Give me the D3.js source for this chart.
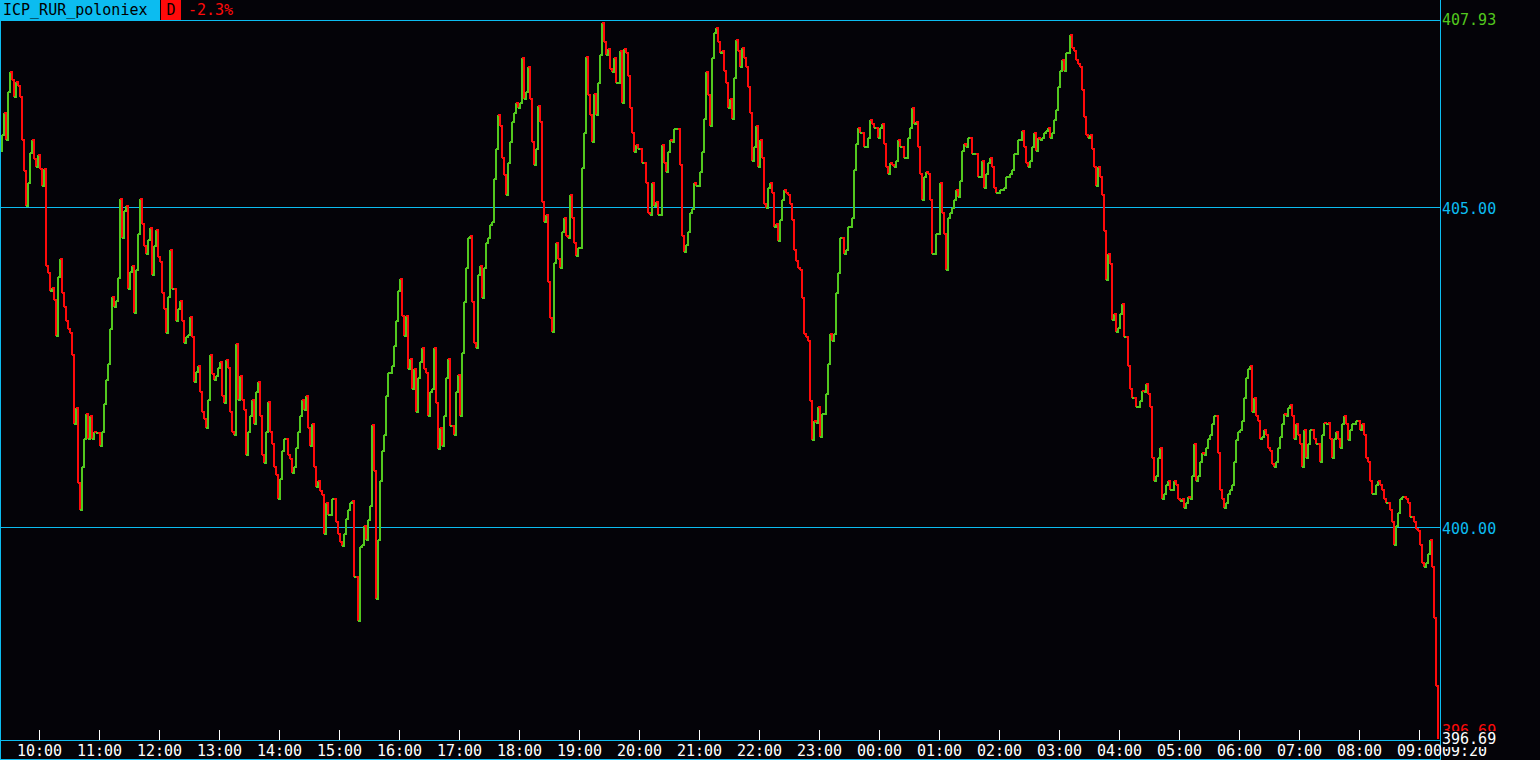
<!DOCTYPE html>
<html><head><meta charset="utf-8">
<script src="https://cdn.jsdelivr.net/npm/d3@7"></script>
<style>html,body{margin:0;padding:0;background:#040308;overflow:hidden}</style>
</head><body><svg id="c" width="1540" height="760"></svg>
<script>
// ---- data ----
const symbol = "ICP_RUR_poloniex";
const periodLabel = "D";
const changeLabel = "-2.3%";
const startTime = new Date(2021, 0, 1, 9, 20);   // first sample
const stepMinutes = 2;
const prices = [
405.88,406.13,406.47,406.05,406.81,407.12,406.99,406.72,406.96,406.90,406.72,406.05,405.57,405.02,405.39,405.85,406.06,405.76,405.64,405.82,
405.60,405.33,405.60,404.09,403.97,403.70,403.75,403.55,403.00,403.91,404.19,403.66,403.44,403.23,403.10,403.04,402.70,401.62,401.87,400.70,
400.27,400.95,401.38,401.78,401.38,401.75,401.38,401.50,401.47,401.47,401.28,401.50,401.93,402.30,402.55,403.10,403.60,403.44,403.54,403.90,
405.14,404.52,404.95,405.02,403.72,404.00,404.09,403.35,404.03,404.59,405.14,404.74,404.40,404.28,404.49,404.68,403.94,404.40,404.65,404.22,
404.15,403.66,403.41,403.04,403.60,404.34,403.72,403.72,403.23,403.41,403.54,403.23,402.89,402.98,403.01,403.29,402.98,402.27,402.43,402.52,
402.12,401.81,401.69,401.56,401.99,402.70,402.40,402.30,402.36,402.49,402.58,402.06,401.95,402.61,402.49,401.81,401.50,401.44,402.86,401.99,
402.36,401.99,401.84,401.13,401.50,401.75,401.99,401.62,402.12,402.27,401.75,401.13,401.01,401.50,401.96,401.50,401.31,400.94,400.82,400.45,
400.76,401.19,401.38,401.38,401.13,401.07,400.85,400.94,401.25,401.50,401.75,401.99,401.84,402.06,401.56,401.28,401.62,400.94,400.64,400.73,
400.57,400.51,399.90,400.39,400.20,400.20,400.45,400.45,400.08,399.90,399.77,399.71,399.90,400.14,400.27,400.39,400.42,399.22,399.22,398.54,
399.70,399.72,400.03,399.80,400.11,400.34,401.60,400.89,398.89,399.80,400.73,401.20,401.44,402.06,402.42,402.42,402.53,402.84,403.23,403.70,
403.89,403.31,403.00,403.31,402.48,402.64,402.17,402.48,401.80,402.33,402.58,402.80,402.48,402.41,401.75,402.11,402.17,402.80,401.95,401.23,
401.55,401.28,401.75,402.33,402.64,401.59,401.59,401.44,402.11,402.38,401.75,402.73,403.52,404.05,404.52,404.56,403.52,402.89,402.80,403.94,
404.09,403.58,404.05,404.45,404.52,404.72,404.77,405.45,405.92,406.44,406.28,405.77,405.50,405.19,405.70,406.02,406.33,406.48,406.64,406.55,
406.64,407.34,406.70,406.80,407.20,406.70,406.02,405.66,405.92,406.59,406.33,405.08,404.77,404.88,403.83,403.27,403.05,404.14,404.45,404.20,
404.05,404.61,404.83,404.56,404.52,405.19,404.83,404.45,404.25,404.36,404.36,405.61,406.17,407.35,406.75,406.44,406.02,406.78,406.44,406.95,
407.38,407.89,407.58,407.38,407.48,407.17,407.11,407.33,406.95,406.95,407.45,406.64,407.48,407.42,407.06,406.55,406.17,405.86,405.97,405.92,
405.92,405.70,405.70,405.39,404.92,404.88,405.39,405.03,405.08,404.88,404.88,405.97,405.70,405.55,405.86,406.05,406.02,406.23,406.23,406.23,
405.66,404.56,404.30,404.41,404.61,404.92,404.98,405.39,405.34,405.34,405.55,405.86,406.39,407.11,406.75,406.28,407.33,407.73,407.80,407.58,
407.41,407.45,407.14,406.94,406.55,406.70,406.39,407.02,407.61,407.45,407.19,407.50,407.34,407.19,406.88,406.47,405.73,405.94,406.28,405.63,
406.05,405.78,405.06,405.00,405.31,405.38,405.22,404.69,404.75,404.48,404.80,405.11,405.27,405.23,405.19,405.06,404.80,404.33,404.17,404.06,
404.02,403.59,403.03,402.97,402.92,401.98,401.36,401.67,401.63,401.88,401.41,401.78,401.78,402.09,402.56,403.03,402.92,403.03,403.66,403.97,
404.53,404.53,404.28,404.33,404.69,404.69,404.84,405.58,406.00,406.25,406.16,406.16,405.94,405.94,406.09,406.36,406.31,406.25,406.25,406.09,
406.25,406.31,406.00,405.63,405.53,405.69,405.66,405.63,405.73,406.05,405.94,405.94,405.78,405.78,406.09,406.25,406.55,406.31,406.33,405.94,
405.53,405.11,405.47,405.55,405.53,405.11,404.28,404.28,404.59,404.59,405.38,404.91,404.59,404.02,404.84,404.92,405.00,405.11,405.27,405.16,
405.42,405.89,406.00,405.94,406.09,406.09,405.84,405.84,405.84,405.47,405.47,405.73,405.31,405.53,405.69,405.78,405.63,405.31,405.22,405.22,
405.27,405.27,405.31,405.47,405.47,405.53,405.58,405.84,405.84,406.05,406.05,406.20,405.94,405.69,405.63,405.73,405.94,406.16,405.89,406.09,
406.05,406.08,406.16,406.20,406.25,406.09,406.16,406.36,406.52,406.88,407.14,407.30,407.14,407.41,407.41,407.69,407.50,407.45,407.30,407.25,
407.20,406.84,406.42,406.13,406.09,406.13,405.91,405.63,405.34,405.63,405.48,405.19,404.63,403.86,404.27,404.11,403.25,403.33,403.05,403.11,
403.33,403.50,402.97,402.97,402.53,402.17,402.03,402.03,401.89,401.89,401.97,402.14,402.11,402.25,402.08,401.89,401.09,400.73,400.81,401.09,
401.25,400.45,400.53,400.67,400.73,400.59,400.59,400.73,400.67,400.45,400.42,400.45,400.31,400.39,400.48,400.45,400.81,401.31,400.73,400.81,
401.03,401.17,401.14,401.25,401.39,401.45,401.61,401.75,401.75,401.17,400.59,400.45,400.31,400.39,400.53,400.59,400.67,401.03,401.36,401.50,
401.53,401.67,402.03,402.33,402.47,402.53,401.81,402.03,401.75,401.67,401.39,401.42,401.53,401.45,401.25,401.20,401.00,400.95,401.03,401.25,
401.42,401.61,401.78,401.75,401.86,401.92,401.75,401.39,401.61,401.45,401.31,400.95,401.53,401.09,401.31,401.53,401.53,401.39,401.31,401.31,
401.03,401.45,401.64,401.61,401.64,401.39,401.09,401.39,401.50,401.39,401.25,401.61,401.75,401.61,401.36,401.53,401.61,401.61,401.67,401.67,
401.53,401.61,401.45,401.09,401.03,400.73,400.53,400.53,400.67,400.73,400.67,400.59,400.45,400.39,400.39,400.28,400.09,399.73,400.03,400.23,
400.45,400.48,400.48,400.45,400.39,400.17,400.17,400.09,399.98,399.95,399.73,399.45,399.38,399.45,399.59,399.81,399.38,398.59,397.52,396.69
];
const gridLevels = [405, 400];
const highLabel = 407.93;
const lowLabel = 396.69;
const lastPrice = 396.69;
const endTickLabel = "09:20";

// ---- style ----
const W = 1540, H = 760;
const plotR = 1440, plotT = 20, plotB = 740;
const CYAN = "#0cbcf0", GREEN = "#52c81e", RED = "#ff0a0a", BG = "#040308";
const FONT = "'DejaVu Sans Mono', 'Liberation Mono', monospace";
const FS = "15px";

const svg = d3.select("#c");
svg.append("rect").attr("width", W).attr("height", H).attr("fill", BG);

const t0 = startTime;
const t1 = new Date(+t0 + 24 * 3600 * 1000);
const x = d3.scaleTime().domain([t0, t1]).range([0, plotR]);
const y = d3.scaleLinear().domain([400, 405]).range([527.5, 207.5]);

const data = prices.map((p, i) => ({ t: new Date(+t0 + i * stepMinutes * 60000), p }));

// clip
svg.append("clipPath").attr("id", "clip").append("rect")
  .attr("x", 1).attr("y", plotT + 1).attr("width", plotR - 1).attr("height", plotB - plotT - 1);

// grid lines
svg.append("g").selectAll("line").data(gridLevels).join("line")
  .attr("x1", 0).attr("x2", plotR)
  .attr("y1", d => Math.round(y(d)) - 0.5).attr("y2", d => Math.round(y(d)) - 0.5)
  .attr("stroke", CYAN).attr("stroke-width", 1);

// price path, colored per step
const segs = d3.range(1, data.length).map(i => ({ a: data[i - 1], b: data[i] }));
svg.append("g").attr("clip-path", "url(#clip)").selectAll("path").data(segs).join("path")
  .attr("d", s => {
    const xa = Math.round(x(s.a.t)), xb = Math.round(x(s.b.t));
    const ya = Math.round(y(s.a.p)), yb = Math.round(y(s.b.p));
    return `M${xa},${ya}H${xb}V${yb}`;
  })
  .attr("fill", "none")
  .attr("stroke", s => s.b.p >= s.a.p ? GREEN : RED)
  .attr("stroke-width", 2)
  .attr("shape-rendering", "crispEdges");

// frame
const frame = svg.append("g").attr("stroke", CYAN).attr("stroke-width", 1).attr("shape-rendering", "crispEdges");
frame.append("line").attr("x1", 0).attr("x2", plotR).attr("y1", plotT + 0.5).attr("y2", plotT + 0.5);
frame.append("line").attr("x1", 0).attr("x2", plotR).attr("y1", plotB + 0.5).attr("y2", plotB + 0.5);
frame.append("line").attr("x1", 0).attr("x2", plotR).attr("y1", H - 0.5).attr("y2", H - 0.5);
frame.append("line").attr("x1", 0.5).attr("x2", 0.5).attr("y1", 0).attr("y2", H);
frame.append("line").attr("x1", plotR + 0.5).attr("x2", plotR + 0.5).attr("y1", 0).attr("y2", H);

// time axis ticks + labels
const hours = x.ticks(d3.timeHour.every(1)).filter(d => x(d) > 5 && x(d) < plotR);
const fmt = d3.timeFormat("%H:%M");
svg.append("g").selectAll("line").data(hours).join("line")
  .attr("x1", d => Math.round(x(d)) - 0.5).attr("x2", d => Math.round(x(d)) - 0.5)
  .attr("y1", plotB - 10).attr("y2", plotB)
  .attr("stroke", "#fff").attr("stroke-width", 1);
svg.append("g").selectAll("text").data(hours).join("text")
  .attr("x", d => x(d) - 0.5).attr("y", 756)
  .attr("text-anchor", "middle")
  .attr("fill", "#fff").attr("font-family", FONT).attr("font-size", FS)
  .text(d => fmt(d));
svg.append("text").attr("x", 1442).attr("y", 756)
  .attr("fill", "#fff").attr("font-family", FONT).attr("font-size", FS).text(endTickLabel);

// right price labels
svg.append("text").attr("x", 1442).attr("y", Math.round(y(highLabel)) + 5)
  .attr("fill", GREEN).attr("font-family", FONT).attr("font-size", FS).text(highLabel.toFixed(2));
svg.append("g").selectAll("text").data(gridLevels).join("text")
  .attr("x", 1442).attr("y", d => Math.round(y(d)) + 6)
  .attr("fill", CYAN).attr("font-family", FONT).attr("font-size", FS)
  .text(d => d.toFixed(2));
svg.append("text").attr("x", 1442).attr("y", Math.round(y(lastPrice)) - 3)
  .attr("fill", RED).attr("font-family", FONT).attr("font-size", FS).text(lastPrice.toFixed(2));
svg.append("rect").attr("x", 1441).attr("y", 731).attr("width", W - 1441).attr("height", 16).attr("fill", BG);
svg.append("text").attr("x", 1442).attr("y", Math.round(y(lowLabel)) + 5)
  .attr("fill", "#fff").attr("font-family", FONT).attr("font-size", FS).text(lowLabel.toFixed(2));

// header
svg.append("rect").attr("x", 0).attr("y", 0).attr("width", 160).attr("height", 20).attr("fill", CYAN);
svg.append("text").attr("x", 3).attr("y", 15).attr("fill", "#000")
  .attr("font-family", FONT).attr("font-size", FS).text(symbol);
svg.append("rect").attr("x", 161).attr("y", 0).attr("width", 20).attr("height", 20).attr("fill", RED);
svg.append("text").attr("x", 171).attr("y", 15).attr("text-anchor", "middle").attr("fill", "#000")
  .attr("font-family", FONT).attr("font-size", FS).text(periodLabel);
svg.append("text").attr("x", 188).attr("y", 15).attr("fill", RED)
  .attr("font-family", FONT).attr("font-size", FS).text(changeLabel);
</script></body></html>
